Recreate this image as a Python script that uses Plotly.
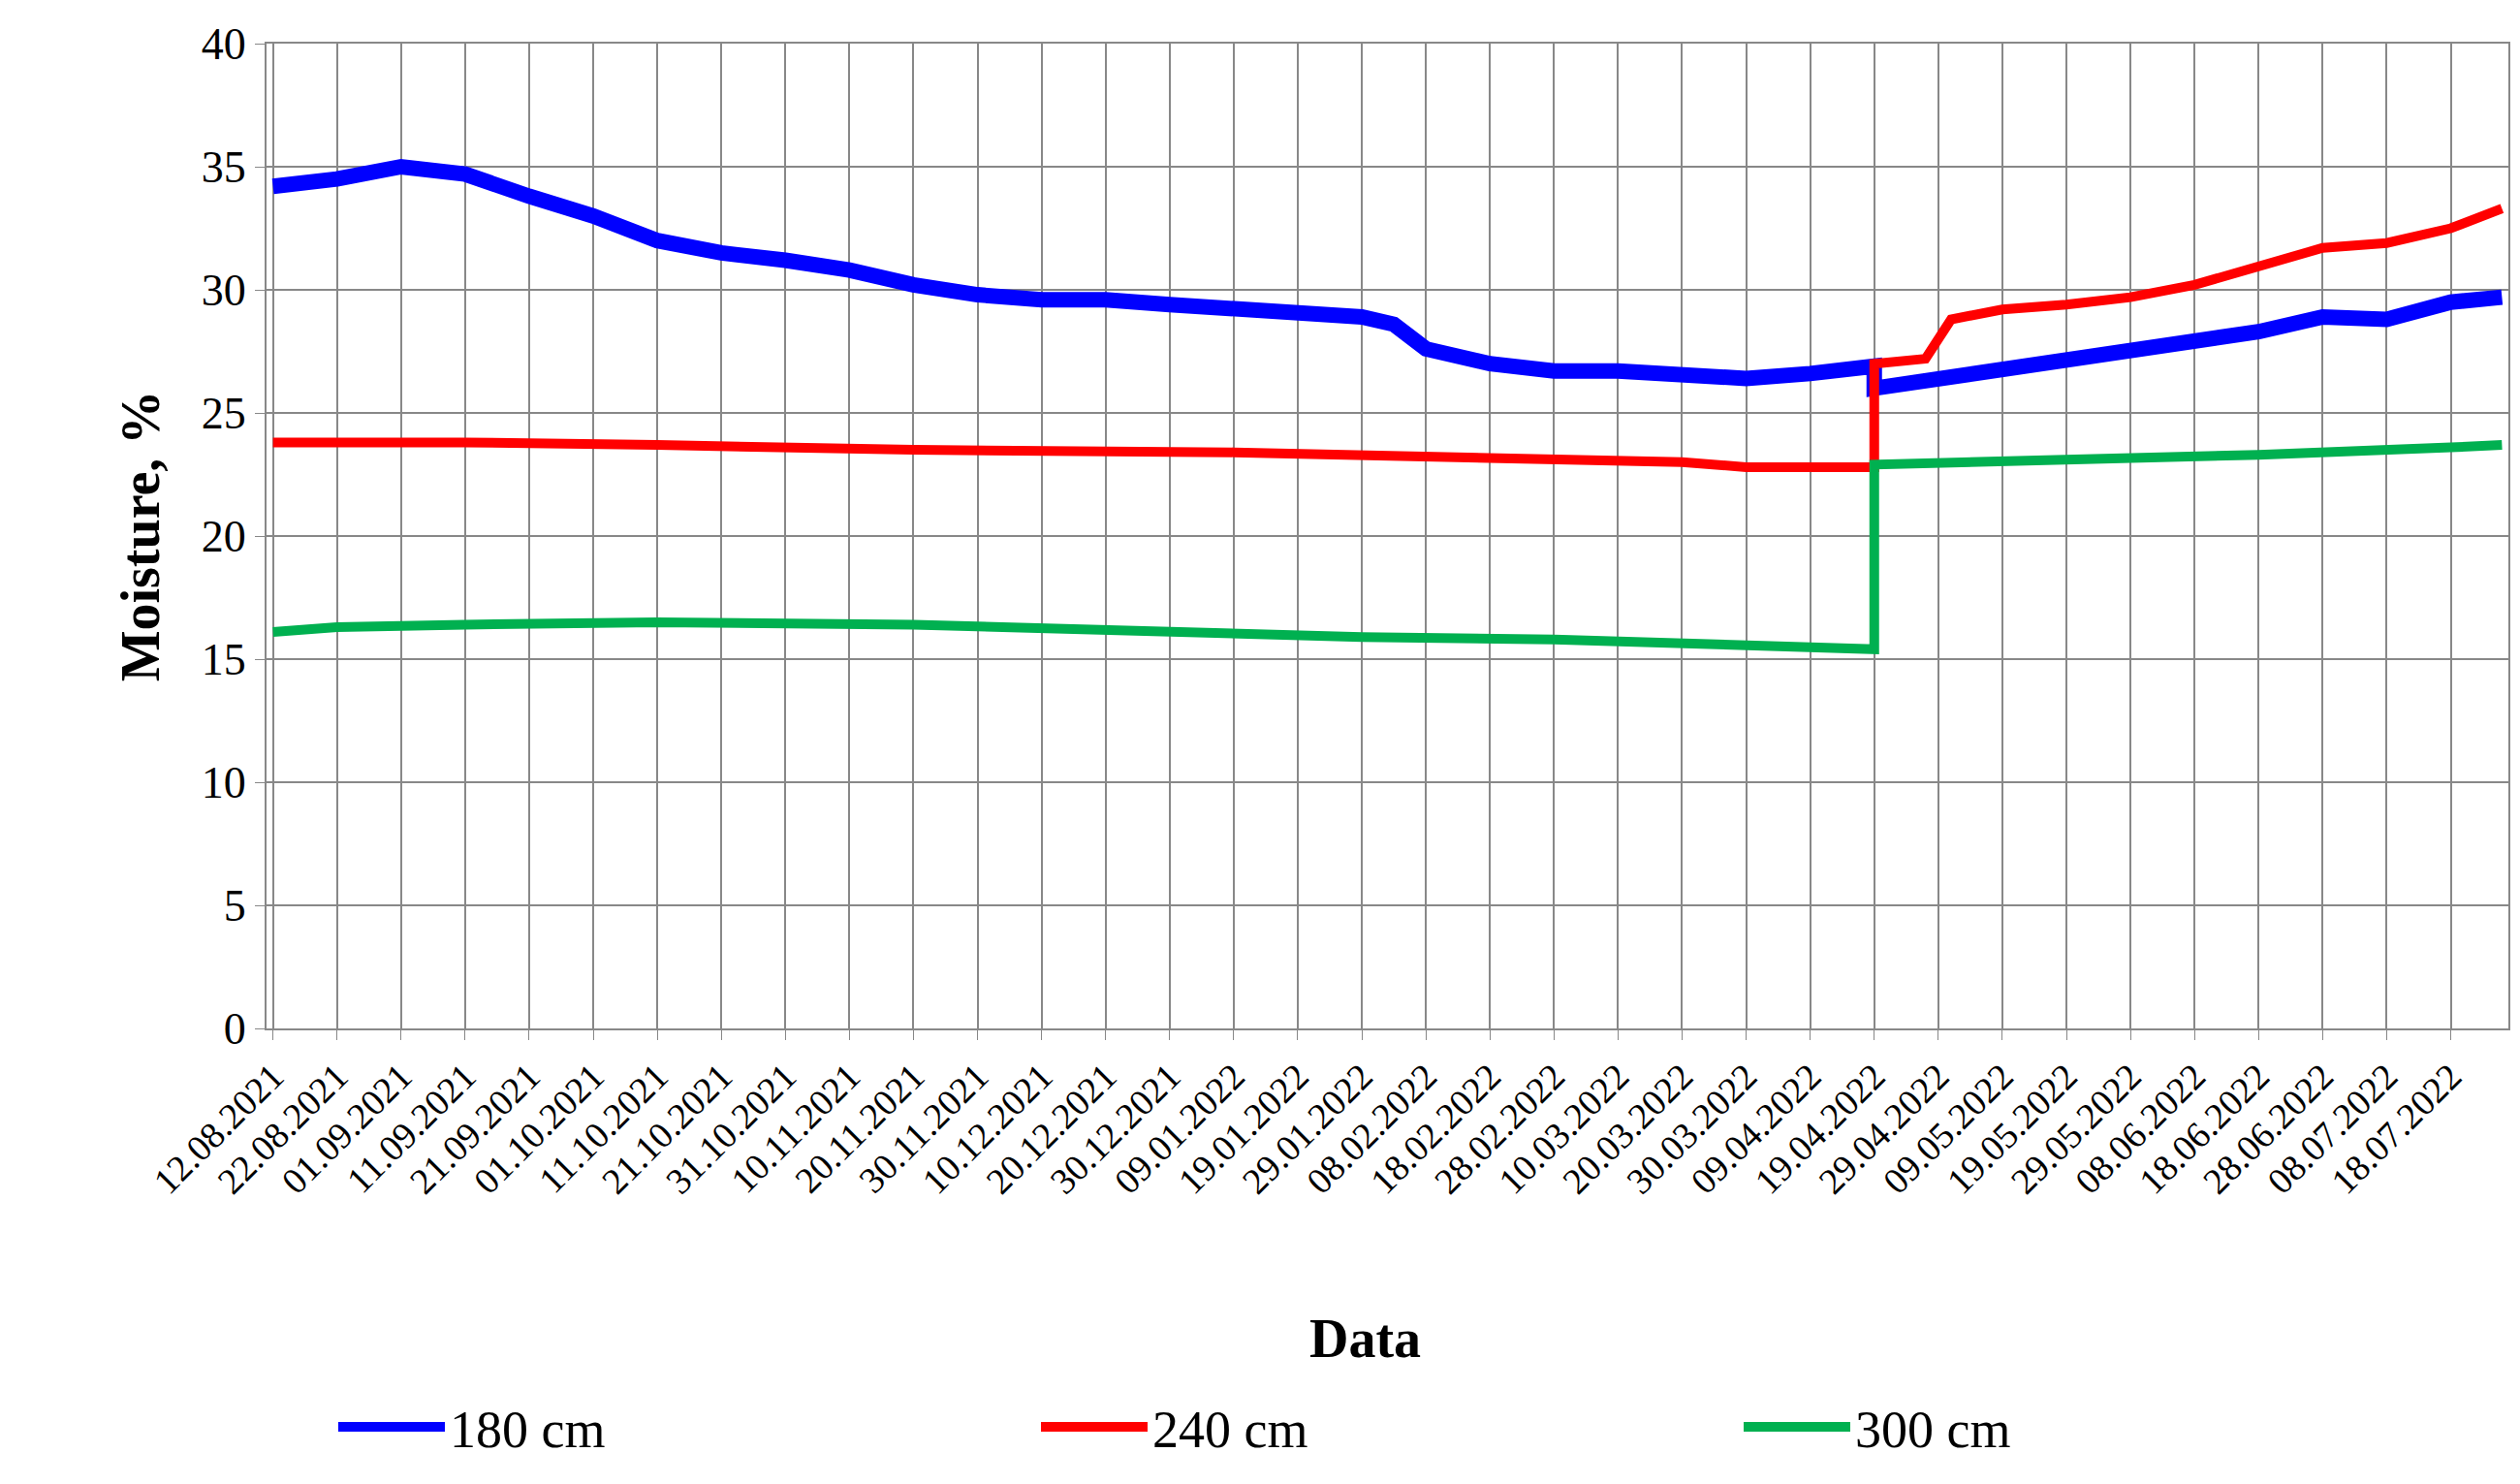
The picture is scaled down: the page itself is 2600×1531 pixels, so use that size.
import plotly.graph_objects as go
from datetime import date, timedelta

def d(s):
    dd, mm, yy = s.split(".")
    return f"{yy}-{mm}-{dd}"

# 180 cm
dates_180 = ["12.08.2021","22.08.2021","01.09.2021","11.09.2021","21.09.2021","01.10.2021","11.10.2021","21.10.2021","31.10.2021","10.11.2021","20.11.2021","30.11.2021","10.12.2021","20.12.2021","30.12.2021","09.01.2022","19.01.2022","29.01.2022","03.02.2022","08.02.2022","18.02.2022","28.02.2022","10.03.2022","20.03.2022","30.03.2022","09.04.2022","19.04.2022","19.04.2022","29.04.2022","09.05.2022","19.05.2022","29.05.2022","08.06.2022","18.06.2022","28.06.2022","08.07.2022","18.07.2022","26.07.2022"]
vals_180 = [34.2,34.5,35.0,34.7,33.8,33.0,32.0,31.5,31.2,30.8,30.2,29.8,29.6,29.6,29.4,29.2,29.1,28.9,28.6,27.6,27.0,26.7,26.7,26.6,26.4,26.6,26.9,26.0,26.4,26.8,27.2,27.5,27.9,28.3,28.9,28.8,29.5,29.7]
# 240 cm
dates_240 = ["12.08.2021","11.09.2021","11.10.2021","20.11.2021","09.01.2022","18.02.2022","20.03.2022","30.03.2022","19.04.2022","19.04.2022","27.04.2022","01.05.2022","09.05.2022","19.05.2022","29.05.2022","08.06.2022","18.06.2022","28.06.2022","08.07.2022","18.07.2022","26.07.2022"]
vals_240 = [23.8,23.8,23.7,23.5,23.4,23.2,23.0,22.8,22.8,27.0,27.2,28.8,29.2,29.4,29.7,30.2,31.0,31.7,31.9,32.5,33.3]
# 300 cm
dates_300 = ["12.08.2021","22.08.2021","11.09.2021","11.10.2021","20.11.2021","20.12.2021","09.01.2022","29.01.2022","28.02.2022","30.03.2022","19.04.2022","19.04.2022","19.05.2022","18.06.2022","18.07.2022","26.07.2022"]
vals_300 = [16.1,16.3,16.4,16.5,16.4,16.2,16.0,15.9,15.8,15.6,15.4,22.9,23.1,23.3,23.6,23.7]

start = date(2021, 8, 12)
tick_dates = [start + timedelta(days=10 * i) for i in range(35)]
tick_vals = [t.isoformat() for t in tick_dates]
tick_text = [t.strftime("%d.%m.%Y") for t in tick_dates]

fig = go.Figure()
for name, ds, vs, col, w in [("180 cm", dates_180, vals_180, "#0000FF", 16),
                             ("240 cm", dates_240, vals_240, "#FF0000", 10),
                             ("300 cm", dates_300, vals_300, "#00B050", 10)]:
    fig.add_trace(go.Scatter(x=[d(s) for s in ds], y=vs, mode="lines", name=name,
                             line=dict(color=col, width=w)))

font = "Liberation Serif"
fig.update_layout(
    width=2600, height=1531, plot_bgcolor="white", paper_bgcolor="white",
    margin=dict(l=267, r=20, t=30, b=478),
    font=dict(family=font, size=36, color="black"),
    showlegend=True,
    legend=dict(orientation="h", x=0.5, xanchor="center", y=-0.405, yanchor="middle",
                font=dict(size=54), itemwidth=110, entrywidth=600),
)
fig.update_xaxes(range=["2021-08-11", "2022-07-27"], tickvals=tick_vals, ticktext=tick_text,
                 tickangle=-45, tickfont=dict(size=38), showgrid=True, gridcolor="#888",
                 gridwidth=2, ticks="outside", ticklen=10, tickcolor="#888",
                 showline=True, linecolor="#888", linewidth=2, mirror=True)
fig.update_yaxes(range=[0, 40], dtick=5, showgrid=True, gridcolor="#888", gridwidth=2,
                 ticks="outside", ticklen=10, tickcolor="#888", tickfont=dict(size=46),
                 showline=True, linecolor="#888", linewidth=2, mirror=True, zeroline=False,
                 title=dict(text="<b>Moisture, %</b>", font=dict(size=56), standoff=25))
fig.add_annotation(text="<b>Data</b>", xref="paper", yref="paper", x=0.49, y=-0.315,
                   showarrow=False, font=dict(size=56), yanchor="middle")
fig.write_html("out.html")
